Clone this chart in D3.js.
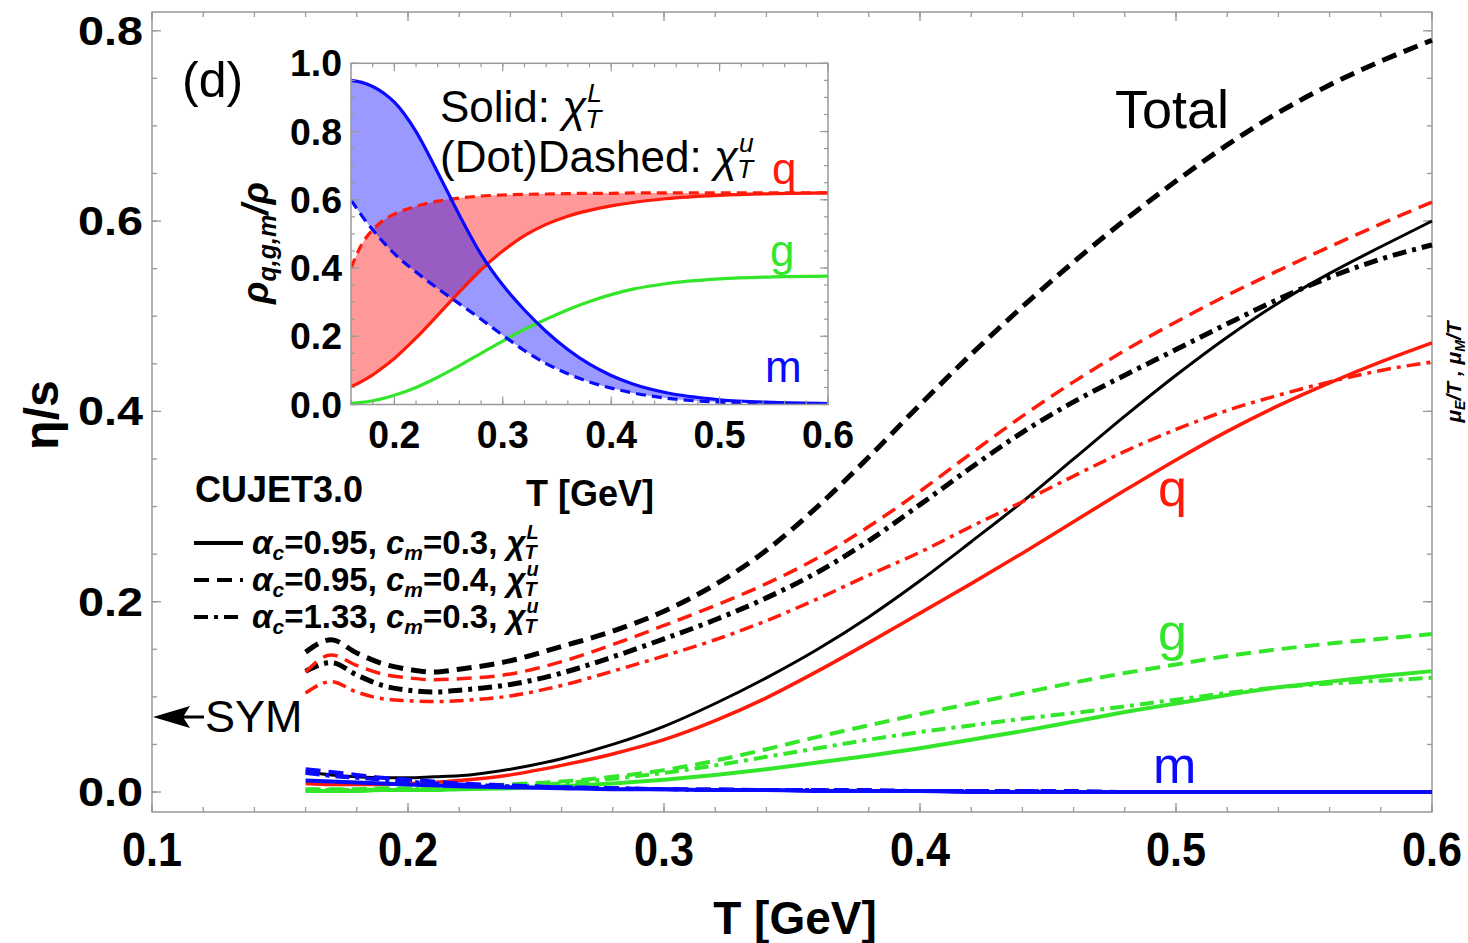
<!DOCTYPE html>
<html><head><meta charset="utf-8">
<script src="https://cdn.jsdelivr.net/npm/d3@7"></script>
<style>
body{margin:0;background:#fff}
svg{display:block}
text{font-family:"Liberation Sans",Arial,sans-serif;white-space:pre}
</style>
</head><body>
<svg id="c" width="1468" height="943"></svg>
<script>
// ---------- main panel data: eta/s vs T ----------
const mainT = [0.16,0.17,0.18,0.19,0.20,0.21,0.22,0.24,0.26,0.28,0.30,0.32,0.34,0.36,0.38,0.40,0.42,0.44,0.46,0.48,0.50,0.52,0.54,0.56,0.58,0.60];
const totalSolid   = [0.021,0.018,0.016,0.015,0.015,0.016,0.017,0.024,0.035,0.050,0.069,0.093,0.120,0.150,0.184,0.222,0.263,0.305,0.350,0.395,0.438,0.478,0.514,0.545,0.573,0.600];
const totalDashed  = [0.147,0.160,0.146,0.135,0.129,0.126,0.129,0.138,0.153,0.169,0.190,0.218,0.254,0.300,0.352,0.407,0.460,0.510,0.557,0.601,0.642,0.680,0.714,0.743,0.768,0.790];
const totalDotDash = [0.127,0.136,0.123,0.112,0.107,0.105,0.107,0.113,0.125,0.142,0.161,0.181,0.204,0.231,0.264,0.302,0.341,0.378,0.410,0.438,0.465,0.492,0.518,0.541,0.560,0.575];
const qSolid   = [0.009,0.008,0.008,0.008,0.009,0.010,0.012,0.018,0.028,0.040,0.055,0.075,0.099,0.127,0.157,0.188,0.219,0.251,0.284,0.317,0.349,0.379,0.406,0.430,0.452,0.472];
const qDashed  = [0.126,0.144,0.133,0.124,0.120,0.118,0.119,0.124,0.137,0.155,0.175,0.196,0.219,0.246,0.279,0.316,0.356,0.395,0.431,0.464,0.494,0.522,0.548,0.573,0.597,0.620];
const qDotDash = [0.104,0.116,0.105,0.098,0.096,0.095,0.096,0.101,0.112,0.127,0.143,0.160,0.180,0.203,0.228,0.252,0.279,0.305,0.332,0.358,0.381,0.401,0.417,0.431,0.443,0.452];
const gSolid   = [0.001,0.001,0.001,0.002,0.002,0.002,0.003,0.004,0.006,0.009,0.013,0.018,0.024,0.031,0.038,0.046,0.055,0.064,0.074,0.084,0.093,0.102,0.110,0.116,0.122,0.127];
const gDashed  = [0.003,0.003,0.003,0.004,0.004,0.005,0.006,0.008,0.011,0.016,0.023,0.033,0.045,0.058,0.070,0.082,0.093,0.104,0.115,0.125,0.134,0.143,0.150,0.156,0.161,0.166];
const gDotDash = [0.002,0.002,0.002,0.003,0.003,0.004,0.005,0.006,0.009,0.014,0.020,0.028,0.037,0.046,0.055,0.063,0.070,0.077,0.083,0.090,0.097,0.104,0.110,0.114,0.117,0.120];
const mSolid   = [0.012,0.011,0.010,0.009,0.008,0.007,0.006,0.005,0.004,0.003,0.003,0.002,0.002,0.001,0.001,0.001,0.000,0.000,0.000,0.000,0.000,0.000,0.000,0.000,0.000,0.000];
const mDashed  = [0.024,0.021,0.018,0.015,0.013,0.011,0.009,0.007,0.005,0.004,0.003,0.003,0.002,0.002,0.002,0.001,0.001,0.001,0.001,0.000,0.000,0.000,0.000,0.000,0.000,0.000];
const mDotDash = [0.020,0.017,0.015,0.013,0.011,0.009,0.008,0.006,0.005,0.004,0.003,0.002,0.002,0.002,0.001,0.001,0.001,0.001,0.000,0.000,0.000,0.000,0.000,0.000,0.000,0.000];

// ---------- inset data: rho_{q,g,m}/rho vs T ----------
const insetT = [0.16,0.17,0.18,0.19,0.20,0.22,0.24,0.26,0.28,0.30,0.32,0.34,0.36,0.38,0.40,0.42,0.45,0.50,0.55,0.60];
const rhoQ_L = [0.052,0.068,0.087,0.110,0.135,0.195,0.262,0.330,0.395,0.450,0.495,0.528,0.552,0.569,0.582,0.592,0.603,0.613,0.618,0.620];
const rhoQ_u = [0.400,0.470,0.512,0.540,0.558,0.581,0.596,0.605,0.611,0.614,0.616,0.617,0.618,0.619,0.619,0.620,0.620,0.620,0.620,0.620];
const rhoG_L = [0.003,0.006,0.011,0.018,0.027,0.050,0.080,0.114,0.150,0.186,0.220,0.250,0.278,0.302,0.322,0.338,0.354,0.368,0.374,0.376];
const rhoM_L = [0.950,0.944,0.932,0.913,0.886,0.800,0.680,0.555,0.440,0.350,0.277,0.214,0.161,0.118,0.085,0.060,0.035,0.014,0.006,0.003];
const rhoM_u = [0.600,0.553,0.512,0.475,0.442,0.388,0.340,0.295,0.250,0.203,0.158,0.120,0.090,0.066,0.048,0.034,0.019,0.007,0.003,0.002];

// ---------- ticks / labels ----------
const mainXTicks = [0.1,0.2,0.3,0.4,0.5,0.6];
const mainYTicks = [0.0,0.2,0.4,0.6,0.8];
const insetXTicks = [0.2,0.3,0.4,0.5,0.6];
const insetYTicks = [0.0,0.2,0.4,0.6,0.8,1.0];

const RED = "#ff1a0a", GREEN = "#33e62a", BLUE = "#0a0aff", FRAME = "#999";
const DASH = "15,8", DOTDASH = "14,6,4,6";

const svg = d3.select("#c");

// ---------- main scales ----------
const x = d3.scaleLinear().domain([0.1, 0.6]).range([152, 1432]);
const y = d3.scaleLinear().domain([-0.021, 0.8197]).range([812, 12]);

function minorVals(lo, hi, step){ const r=[]; for(let v=lo; v<=hi+1e-9; v+=step) r.push(+v.toFixed(4)); return r; }

svg.append("rect").attr("x",152).attr("y",12).attr("width",1280).attr("height",800)
  .attr("fill","none").attr("stroke",FRAME).attr("stroke-width",1.5);

function drawTicks(g, scale, vals, orient, pos, len){
  vals.forEach(v=>{
    const p = scale(v);
    if(orient==="left") g.append("line").attr("x1",pos).attr("x2",pos+len).attr("y1",p).attr("y2",p);
    if(orient==="right") g.append("line").attr("x1",pos).attr("x2",pos-len).attr("y1",p).attr("y2",p);
    if(orient==="bottom") g.append("line").attr("y1",pos).attr("y2",pos-len).attr("x1",p).attr("x2",p);
    if(orient==="top") g.append("line").attr("y1",pos).attr("y2",pos+len).attr("x1",p).attr("x2",p);
  });
}
const tg = svg.append("g").attr("stroke",FRAME).attr("stroke-width",1.3);
const yMinor = minorVals(0,0.8,0.05), xMinor = minorVals(0.1,0.6,0.02);
drawTicks(tg,y,yMinor,"left",152,5); drawTicks(tg,y,mainYTicks,"left",152,9);
drawTicks(tg,y,yMinor,"right",1432,5); drawTicks(tg,y,mainYTicks,"right",1432,9);
drawTicks(tg,x,xMinor,"bottom",812,5); drawTicks(tg,x,mainXTicks,"bottom",812,9);
drawTicks(tg,x,xMinor,"top",12,5); drawTicks(tg,x,mainXTicks,"top",12,9);

svg.append("g").selectAll("text").data(mainYTicks).join("text")
  .attr("x",143).attr("y",d=>y(d)+14).attr("text-anchor","end")
  .attr("font-size",40).attr("font-weight","bold")
  .attr("textLength",65).attr("lengthAdjust","spacingAndGlyphs")
  .text(d=>d3.format(".1f")(d));
svg.append("g").selectAll("text").data(mainXTicks).join("text")
  .attr("x",d=>x(d)).attr("y",866).attr("text-anchor","middle")
  .attr("font-size",48).attr("font-weight","bold")
  .attr("textLength",60).attr("lengthAdjust","spacingAndGlyphs")
  .text(d=>d3.format(".1f")(d));

svg.append("text").attr("transform","translate(58,415) rotate(-90)").attr("text-anchor","middle")
  .attr("font-size",48).attr("font-weight","bold").text("η/s");
svg.append("text").attr("x",795).attr("y",934).attr("text-anchor","middle")
  .attr("font-size",46).attr("font-weight","bold").text("T [GeV]");

// ---------- main curves ----------
const line = d3.line().x((d,i)=>x(mainT[i])).y(d=>y(d)).curve(d3.curveMonotoneX);
const series = [
  {v:totalDashed, c:"#000", w:5, d:DASH},
  {v:totalDotDash,c:"#000", w:5, d:DOTDASH},
  {v:totalSolid,  c:"#000", w:3, d:null},
  {v:qDashed,  c:RED, w:3.5, d:DASH},
  {v:qDotDash, c:RED, w:3.5, d:DOTDASH},
  {v:qSolid,   c:RED, w:3.5, d:null},
  {v:gDashed,  c:GREEN, w:4, d:DASH},
  {v:gDotDash, c:GREEN, w:4, d:DOTDASH},
  {v:gSolid,   c:GREEN, w:4, d:null},
  {v:mDashed,  c:BLUE, w:4, d:DASH},
  {v:mDotDash, c:BLUE, w:4, d:DOTDASH},
  {v:mSolid,   c:BLUE, w:4, d:null}
];
svg.append("g").selectAll("path").data(series).join("path")
  .attr("d",s=>line(s.v)).attr("fill","none").attr("stroke",s=>s.c)
  .attr("stroke-width",s=>s.w).attr("stroke-dasharray",s=>s.d);

svg.append("text").attr("x",182).attr("y",97).attr("font-size",50).text("(d)");
svg.append("text").attr("x",1115).attr("y",128).attr("font-size",54).text("Total");
svg.append("text").attr("x",1158).attr("y",506).attr("font-size",52).attr("fill",RED).text("q");
svg.append("text").attr("x",1158).attr("y",650).attr("font-size",52).attr("fill",GREEN).text("g");
svg.append("text").attr("x",1153).attr("y",783).attr("font-size",52).attr("fill",BLUE).text("m");
svg.append("text").attr("x",205).attr("y",732).attr("font-size",45).text("SYM");
svg.append("line").attr("x1",170).attr("x2",204).attr("y1",717).attr("y2",717).attr("stroke","#000").attr("stroke-width",3);
svg.append("path").attr("d","M153,717 L190,706 L183,717 L190,728 Z").attr("fill","#000");

// right side label
svg.append("text").attr("transform","translate(1461,372) rotate(-90)").attr("text-anchor","middle")
  .attr("font-size",21).attr("font-weight","bold").attr("font-style","italic")
  .call(t=>{
    t.append("tspan").text("μ");
    t.append("tspan").attr("font-size",14).attr("dy",4).text("E");
    t.append("tspan").attr("dy",-4).text("/T , μ");
    t.append("tspan").attr("font-size",14).attr("dy",4).text("M");
    t.append("tspan").attr("dy",-4).text("/T");
  });

// χ with stacked sub/sup
function chi(g, xx, yy, fs, sup, bold){
  const t = g.append("text").attr("x",xx).attr("y",yy).attr("font-size",fs).attr("font-style","italic")
    .attr("font-weight",bold?"bold":"normal").text("χ");
  const w = t.node().getComputedTextLength();
  g.append("text").attr("x",xx+w+1).attr("y",yy-fs*0.45).attr("font-size",fs*0.6).attr("font-style","italic")
    .attr("font-weight",bold?"bold":"normal").text(sup);
  g.append("text").attr("x",xx+w-1).attr("y",yy+fs*0.14).attr("font-size",fs*0.6).attr("font-style","italic")
    .attr("font-weight",bold?"bold":"normal").text("T");
}

// ---------- legend ----------
svg.append("text").attr("x",195).attr("y",502).attr("font-size",36).attr("font-weight","bold").text("CUJET3.0");
const legendRows = [
  {d:null, a:"0.95", cm:"0.3", s:"L"},
  {d:DASH, a:"0.95", cm:"0.4", s:"u"},
  {d:DOTDASH, a:"1.33", cm:"0.3", s:"u"}
];
legendRows.forEach((r,i)=>{
  const yy = 543 + i*37;
  svg.append("line").attr("x1",194).attr("x2",243).attr("y1",yy).attr("y2",yy)
    .attr("stroke","#000").attr("stroke-width",4).attr("stroke-dasharray",r.d);
  const g = svg.append("g");
  const t = g.append("text").attr("x",252).attr("y",yy+11).attr("font-size",33).attr("font-weight","bold");
  t.append("tspan").attr("font-style","italic").text("α");
  t.append("tspan").attr("font-style","italic").attr("font-size",21).attr("dy",6).text("c");
  t.append("tspan").attr("dy",-6).text("="+r.a+", ");
  t.append("tspan").attr("font-style","italic").text("c");
  t.append("tspan").attr("font-style","italic").attr("font-size",21).attr("dy",6).text("m");
  t.append("tspan").attr("dy",-6).text("="+r.cm+", ");
  const w = t.node().getComputedTextLength();
  chi(g, 252+w, yy+11, 33, r.s, true);
});

// ---------- inset ----------
const xi = d3.scaleLinear().domain([0.16, 0.6]).range([351, 828]);
const yi = d3.scaleLinear().domain([0, 1]).range([404.5, 63.3]);
const ins = svg.append("g");
ins.append("rect").attr("x",351).attr("y",63.3).attr("width",477).attr("height",341.2).attr("fill","#fff");
ins.append("clipPath").attr("id","ic").append("rect").attr("x",351).attr("y",63.3).attr("width",477).attr("height",341.2);
const pg = ins.append("g").attr("clip-path","url(#ic)");
const areaI = (lo,hi)=>d3.area().x((d,i)=>xi(insetT[i])).y0((d,i)=>yi(lo[i])).y1((d,i)=>yi(hi[i])).curve(d3.curveMonotoneX)(insetT);
pg.append("path").attr("d",areaI(rhoQ_L,rhoQ_u)).attr("fill","rgb(255,0,0)").attr("fill-opacity",0.4);
pg.append("path").attr("d",areaI(rhoM_u,rhoM_L)).attr("fill","rgb(0,0,255)").attr("fill-opacity",0.4);
const lineI = d3.line().x((d,i)=>xi(insetT[i])).y(d=>yi(d)).curve(d3.curveMonotoneX);
[
  {v:rhoG_L, c:GREEN, d:null},
  {v:rhoQ_L, c:RED, d:null},
  {v:rhoQ_u, c:RED, d:"10,6"},
  {v:rhoM_u, c:BLUE, d:"10,6"},
  {v:rhoM_L, c:BLUE, d:null}
].forEach(s=>{
  pg.append("path").attr("d",lineI(s.v)).attr("fill","none").attr("stroke",s.c)
    .attr("stroke-width",3.2).attr("stroke-dasharray",s.d);
});
ins.append("rect").attr("x",351).attr("y",63.3).attr("width",477).attr("height",341.2)
  .attr("fill","none").attr("stroke",FRAME).attr("stroke-width",1.5);
const tgi = ins.append("g").attr("stroke",FRAME).attr("stroke-width",1.2);
const yiMinor = minorVals(0,1,0.05), xiMinor = minorVals(0.16,0.6,0.02);
drawTicks(tgi,yi,yiMinor,"left",351,4); drawTicks(tgi,yi,insetYTicks,"left",351,8);
drawTicks(tgi,yi,yiMinor,"right",828,4); drawTicks(tgi,yi,insetYTicks,"right",828,8);
drawTicks(tgi,xi,xiMinor,"bottom",404.5,4); drawTicks(tgi,xi,insetXTicks,"bottom",404.5,8);
drawTicks(tgi,xi,xiMinor,"top",63.3,4); drawTicks(tgi,xi,insetXTicks,"top",63.3,8);
ins.append("g").selectAll("text").data(insetYTicks).join("text")
  .attr("x",342).attr("y",d=>yi(d)+13).attr("text-anchor","end")
  .attr("font-size",36).attr("font-weight","bold")
  .attr("textLength",52).attr("lengthAdjust","spacingAndGlyphs")
  .text(d=>d3.format(".1f")(d));
ins.append("g").selectAll("text").data(insetXTicks).join("text")
  .attr("x",d=>xi(d)).attr("y",448).attr("text-anchor","middle")
  .attr("font-size",38).attr("font-weight","bold")
  .attr("textLength",52).attr("lengthAdjust","spacingAndGlyphs")
  .text(d=>d3.format(".1f")(d));
ins.append("text").attr("x",590).attr("y",506).attr("text-anchor","middle")
  .attr("font-size",36).attr("font-weight","bold").text("T [GeV]");
ins.append("text").attr("transform","translate(268,243) rotate(-90)").attr("text-anchor","middle")
  .attr("font-size",37).attr("font-weight","bold").attr("font-style","italic")
  .call(t=>{
    t.append("tspan").text("ρ");
    t.append("tspan").attr("font-size",25).attr("dy",8).text("q,g,m");
    t.append("tspan").attr("dy",-8).text("/ρ");
  });
const s1 = ins.append("text").attr("x",440).attr("y",122).attr("font-size",44).text("Solid: ");
chi(ins, 440 + s1.node().getComputedTextLength(), 122, 44, "L", false);
const s2 = ins.append("text").attr("x",440).attr("y",172).attr("font-size",44).text("(Dot)Dashed: ");
chi(ins, 440 + s2.node().getComputedTextLength(), 172, 44, "u", false);
ins.append("text").attr("x",772).attr("y",184).attr("font-size",44).attr("fill",RED).text("q");
ins.append("text").attr("x",770).attr("y",266).attr("font-size",44).attr("fill",GREEN).text("g");
ins.append("text").attr("x",765).attr("y",382).attr("font-size",44).attr("fill",BLUE).text("m");
</script>
</body></html>
